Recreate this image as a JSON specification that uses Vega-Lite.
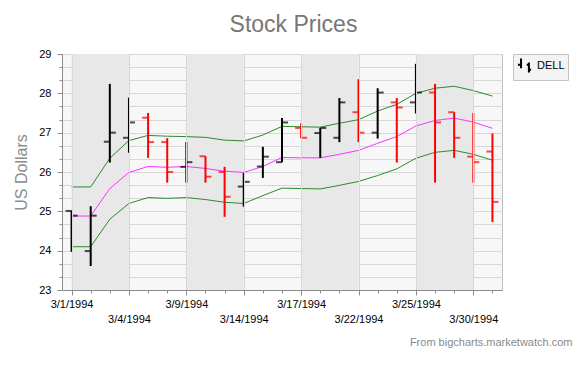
{
  "$schema": "https://vega.github.io/schema/vega-lite/v6.json",
  "autosize": "none",
  "width": 440,
  "height": 236,
  "padding": {"left": 62, "top": 54, "right": 85, "bottom": 77},
  "background": "white",
  "title": {"text": "Stock Prices", "fontSize": 23, "fontWeight": "normal", "color": "#777777", "font": "Liberation Sans", "anchor": "middle", "frame": "group", "dx": 11.5, "offset": 11},
  "config": {
    "font": "Liberation Sans",
    "view": {"fill": "#f6f7f6", "stroke": "#bfbfbf", "strokeWidth": 1},
    "axis": {"domainColor": "#8c8c8c", "tickColor": "#8c8c8c", "gridColor": "#d6d7d6", "gridWidth": 1, "labelColor": "black", "labelFontSize": 11, "labelFont": "Liberation Sans"}
  },
  "datasets": {
    "stock": [
      {"date": "3/1/1994", "open": 25.01, "high": 25.02, "low": 23.97, "close": 24.89, "upper": 25.62, "mid": 24.88, "lower": 24.10},
      {"date": "3/2/1994", "open": 23.99, "high": 25.13, "low": 23.61, "close": 24.89, "upper": 25.62, "mid": 24.88, "lower": 24.10},
      {"date": "3/3/1994", "open": 26.77, "high": 28.24, "low": 26.24, "close": 27.00, "upper": 26.35, "mid": 25.58, "lower": 24.80},
      {"date": "3/4/1994", "open": 26.87, "high": 27.89, "low": 26.49, "close": 27.26, "upper": 26.80, "mid": 25.99, "lower": 25.20},
      {"date": "3/7/1994", "open": 27.38, "high": 27.50, "low": 26.36, "close": 26.76, "upper": 26.93, "mid": 26.14, "lower": 25.35},
      {"date": "3/8/1994", "open": 26.76, "high": 26.86, "low": 25.73, "close": 26.00, "upper": 26.91, "mid": 26.12, "lower": 25.33},
      {"date": "3/9/1994", "open": 26.13, "high": 26.76, "low": 25.73, "close": 26.25, "upper": 26.90, "mid": 26.14, "lower": 25.35},
      {"date": "3/10/1994", "open": 26.40, "high": 26.40, "low": 25.73, "close": 25.88, "upper": 26.88, "mid": 26.09, "lower": 25.30},
      {"date": "3/11/1994", "open": 26.00, "high": 26.13, "low": 24.86, "close": 25.37, "upper": 26.81, "mid": 26.02, "lower": 25.23},
      {"date": "3/14/1994", "open": 25.63, "high": 25.98, "low": 25.12, "close": 25.75, "upper": 26.79, "mid": 25.99, "lower": 25.20},
      {"date": "3/15/1994", "open": 26.14, "high": 26.64, "low": 25.85, "close": 26.39, "upper": 26.94, "mid": 26.14, "lower": 25.40},
      {"date": "3/16/1994", "open": 26.25, "high": 27.37, "low": 26.25, "close": 27.26, "upper": 27.16, "mid": 26.37, "lower": 25.59},
      {"date": "3/17/1994", "open": 27.12, "high": 27.24, "low": 26.86, "close": 26.87, "upper": 27.15, "mid": 26.36, "lower": 25.58},
      {"date": "3/18/1994", "open": 26.99, "high": 27.12, "low": 26.36, "close": 27.12, "upper": 27.14, "mid": 26.36, "lower": 25.57},
      {"date": "3/21/1994", "open": 26.87, "high": 27.88, "low": 26.76, "close": 27.77, "upper": 27.24, "mid": 26.45, "lower": 25.66},
      {"date": "3/22/1994", "open": 27.52, "high": 28.36, "low": 26.76, "close": 27.00, "upper": 27.33, "mid": 26.55, "lower": 25.76},
      {"date": "3/23/1994", "open": 27.00, "high": 28.13, "low": 26.85, "close": 28.02, "upper": 27.55, "mid": 26.73, "lower": 25.91},
      {"date": "3/24/1994", "open": 27.77, "high": 27.88, "low": 26.24, "close": 27.64, "upper": 27.72, "mid": 26.90, "lower": 26.08},
      {"date": "3/25/1994", "open": 27.77, "high": 28.75, "low": 27.49, "close": 28.02, "upper": 28.00, "mid": 27.17, "lower": 26.35},
      {"date": "3/28/1994", "open": 28.02, "high": 28.24, "low": 25.73, "close": 27.26, "upper": 28.13, "mid": 27.31, "lower": 26.50},
      {"date": "3/29/1994", "open": 27.52, "high": 27.52, "low": 26.36, "close": 26.87, "upper": 28.18, "mid": 27.37, "lower": 26.55},
      {"date": "3/30/1994", "open": 26.39, "high": 27.50, "low": 25.73, "close": 26.25, "upper": 28.07, "mid": 27.27, "lower": 26.45},
      {"date": "3/31/1994", "open": 26.52, "high": 26.98, "low": 24.73, "close": 25.24, "upper": 27.93, "mid": 27.11, "lower": 26.30}
    ],
    "strips": [
      {"date": "3/1/1994", "end": "3/4/1994"},
      {"date": "3/9/1994", "end": "3/14/1994"},
      {"date": "3/17/1994", "end": "3/22/1994"},
      {"date": "3/25/1994", "end": "3/30/1994"}
    ]
  },
  "encoding": {
    "x": {
      "field": "date", "type": "ordinal",
      "scale": {"type": "point", "padding": 0.5, "domain": ["3/1/1994","3/2/1994","3/3/1994","3/4/1994","3/7/1994","3/8/1994","3/9/1994","3/10/1994","3/11/1994","3/14/1994","3/15/1994","3/16/1994","3/17/1994","3/18/1994","3/21/1994","3/22/1994","3/23/1994","3/24/1994","3/25/1994","3/28/1994","3/29/1994","3/30/1994","3/31/1994"]},
      "axis": {
        "title": "From bigcharts.marketwatch.com",
        "titleFontSize": 11, "titleFontWeight": "normal", "titleColor": "#8a8a8a",
        "titleAlign": "right", "titleBaseline": "middle", "titleX": 510, "titleY": 52, "titleAnchor": "end",
        "labelAngle": 0, "labelOverlap": false,
        "labelExpr": "indexof(['3/1/1994','3/4/1994','3/9/1994','3/14/1994','3/17/1994','3/22/1994','3/25/1994','3/30/1994'], datum.value) >= 0 ? datum.label : ''",
        "labelPadding": {"condition": {"test": "indexof(['3/4/1994','3/14/1994','3/22/1994','3/30/1994'], datum.value) >= 0", "value": 18}, "value": 3},
        "tickSize": {"condition": {"test": "indexof(['3/1/1994','3/4/1994','3/9/1994','3/14/1994','3/17/1994','3/22/1994','3/25/1994','3/30/1994'], datum.value) >= 0", "value": 5}, "value": 3},
        "grid": true,
        "gridOpacity": {"condition": {"test": "indexof(['3/1/1994','3/4/1994','3/9/1994','3/14/1994','3/17/1994','3/22/1994','3/25/1994','3/30/1994'], datum.value) >= 0", "value": 1}, "value": 0}
      }
    },
    "y": {
      "type": "quantitative",
      "scale": {"domain": [23, 29], "nice": false, "zero": false},
      "title": "US Dollars",
      "axis": {
        "title": "US Dollars", "titleFontSize": 16, "titleFontWeight": "normal", "titleColor": "#8c8c8c", "titlePadding": 9,
        "values": [23, 23.3333333, 23.6666667, 24, 24.3333333, 24.6666667, 25, 25.3333333, 25.6666667, 26, 26.3333333, 26.6666667, 27, 27.3333333, 27.6666667, 28, 28.3333333, 28.6666667, 29],
        "tickCount": 40,
        "labelOverlap": false,
        "labelExpr": "datum.value % 1 == 0 ? format(datum.value, 'd') : ''",
        "tickSize": {"condition": {"test": "datum.value % 1 == 0", "value": 5}, "value": 3},
        "labelPadding": 6,
        "grid": true
      }
    }
  },
  "layer": [
    {
      "data": {"name": "strips"},
      "mark": {"type": "rect", "color": "#e7e8e7"},
      "encoding": {"x2": {"field": "end"}, "y": null}
    },
    {
      "data": {"name": "stock"},
      "transform": [{"window": [{"op": "lag", "field": "close", "as": "prev"}]}],
      "layer": [
        {
          "mark": {"type": "line", "color": "#2d8a2d", "strokeWidth": 1},
          "encoding": {"y": {"field": "upper"}}
        },
        {
          "mark": {"type": "line", "color": "#2d8a2d", "strokeWidth": 1},
          "encoding": {"y": {"field": "lower"}}
        },
        {
          "mark": {"type": "line", "color": "#ff33ff", "strokeWidth": 1},
          "encoding": {"y": {"field": "mid"}}
        },
        {
          "mark": {"type": "rule", "strokeWidth": 2},
          "encoding": {
            "y": {"field": "low"},
            "y2": {"field": "high"},
            "color": {
              "condition": {"test": "datum.prev != null && datum.close < datum.prev", "value": "#ff0000"},
              "datum": "DELL",
              "scale": {"range": ["#000000"]},
              "legend": {
                "title": null,
                "orient": "right", "offset": 11, "padding": 3,
                "fillColor": "#f2f3f2", "strokeColor": "#c4c4c4",
                "symbolType": "M-0.49,-1V0.38M-0.93,-0.11H-0.49M0.62,-0.42V1M0.31,-0.11H0.62M0.62,0.6H0.93",
                "symbolSize": 200, "symbolStrokeWidth": 2, "symbolFillColor": "transparent",
                "labelFontSize": 11, "labelColor": "black", "labelFont": "Liberation Sans"
              }
            }
          }
        },
        {
          "mark": {"type": "tick", "thickness": 2, "size": 6, "xOffset": -3},
          "encoding": {
            "y": {"field": "open"},
            "color": {"condition": {"test": "datum.prev != null && datum.close < datum.prev", "value": "#ff0000"}, "value": "#000000"}
          }
        },
        {
          "mark": {"type": "tick", "thickness": 2, "size": 6, "xOffset": 3},
          "encoding": {
            "y": {"field": "close"},
            "color": {"condition": {"test": "datum.prev != null && datum.close < datum.prev", "value": "#ff0000"}, "value": "#000000"}
          }
        }
      ]
    }
  ]
}
